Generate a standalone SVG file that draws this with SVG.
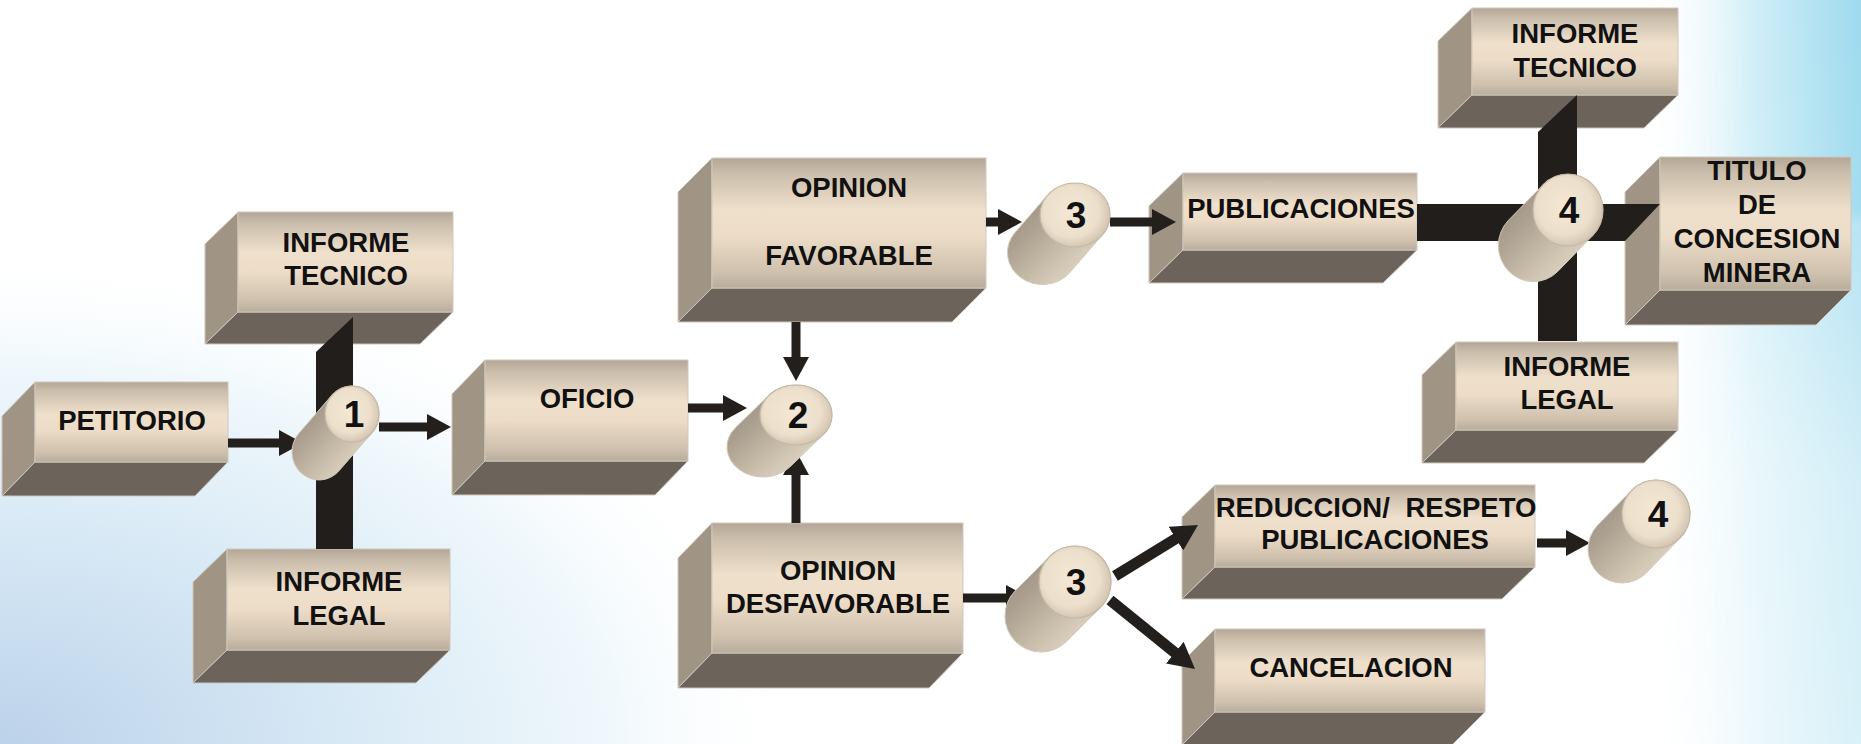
<svg xmlns="http://www.w3.org/2000/svg" width="1861" height="744" viewBox="0 0 1861 744">
<defs>
<style>
.front{fill:url(#gFront);stroke:#cfc7bc;stroke-width:1}
.side{fill:#a09585;stroke:#cfc7bc;stroke-width:1;stroke-linejoin:round}
.bot{fill:#6c635a;stroke:#cfc7bc;stroke-width:1;stroke-linejoin:round}
.lbl{font-family:"Liberation Sans",Arial,sans-serif;font-weight:bold;font-size:27.5px;fill:#111;text-anchor:middle}
.num{font-family:"Liberation Sans",Arial,sans-serif;font-weight:bold;font-size:37px;fill:#111;text-anchor:middle}
.cbody{fill:url(#gCyl);stroke:#d3c9bb;stroke-width:1}
.ctop{fill:url(#gTop);stroke:#c4b8a6;stroke-width:1.2}
.bar{fill:#221e1b}
.arr{stroke:#231f1c;stroke-width:9;fill:none;marker-end:url(#ah)}
.arrd{stroke:#231f1c;stroke-width:11;fill:none;marker-end:url(#ah2)}
</style>
<linearGradient id="gFront" x1="0" y1="0" x2="0" y2="1">
<stop offset="0" stop-color="#b3a696"/>
<stop offset="0.12" stop-color="#cbbeac"/>
<stop offset="0.4" stop-color="#efe0cc"/>
<stop offset="0.6" stop-color="#ecdcc8"/>
<stop offset="0.88" stop-color="#cfc1ae"/>
<stop offset="1" stop-color="#b9ac9b"/>
</linearGradient>
<linearGradient id="gCyl" x1="0" y1="0" x2="1" y2="1">
<stop offset="0" stop-color="#8f8373"/>
<stop offset="0.35" stop-color="#ada191"/>
<stop offset="0.68" stop-color="#d3c7b5"/>
<stop offset="0.82" stop-color="#dfd3c1"/>
<stop offset="1" stop-color="#7f7468"/>
</linearGradient>
<radialGradient id="gTop" cx="0.45" cy="0.45" r="0.6">
<stop offset="0" stop-color="#f4e7d5"/>
<stop offset="0.65" stop-color="#ecdfcb"/>
<stop offset="1" stop-color="#cdbfab"/>
</radialGradient>
<radialGradient id="bgL" cx="0" cy="744" r="800" gradientUnits="userSpaceOnUse" gradientTransform="translate(0,744) scale(1,0.62) translate(0,-744)">
<stop offset="0" stop-color="#bcd2ea"/>
<stop offset="0.45" stop-color="#d9eaf6"/>
<stop offset="0.75" stop-color="#eef7fb"/>
<stop offset="1" stop-color="#ffffff" stop-opacity="0"/>
</radialGradient>
<linearGradient id="bgR" x1="1640" y1="0" x2="1861" y2="0" gradientUnits="userSpaceOnUse">
<stop offset="0" stop-color="#ffffff" stop-opacity="0"/>
<stop offset="0.5" stop-color="#d2eff8"/>
<stop offset="1" stop-color="#9edaee"/>
</linearGradient>
<linearGradient id="mRg" x1="0" y1="0" x2="0" y2="1">
<stop offset="0" stop-color="#fff"/>
<stop offset="0.28" stop-color="#fff" stop-opacity="0.95"/>
<stop offset="0.3" stop-color="#fff" stop-opacity="0.75"/>
<stop offset="0.65" stop-color="#fff" stop-opacity="0.45"/>
<stop offset="1" stop-color="#fff" stop-opacity="0.4"/>
</linearGradient>
<mask id="mR"><rect x="1600" y="0" width="261" height="744" fill="url(#mRg)"/></mask>
<marker id="ah" viewBox="0 0 24 26" markerWidth="24" markerHeight="26" refX="1" refY="13" markerUnits="userSpaceOnUse" orient="auto">
<path d="M0,0 L24,13 L0,26 Z" fill="#231f1c"/>
</marker>
<marker id="ah2" viewBox="0 0 26 28" markerWidth="26" markerHeight="28" refX="1" refY="14" markerUnits="userSpaceOnUse" orient="auto">
<path d="M0,0 L26,14 L0,28 Z" fill="#231f1c"/>
</marker>
</defs>

<g id="background">
<rect x="0" y="0" width="1861" height="744" fill="#ffffff"/>
<rect x="0" y="0" width="1861" height="744" fill="url(#bgL)"/>
<rect x="1600" y="0" width="261" height="744" fill="url(#bgR)" mask="url(#mR)"/>
</g>

<g id="node-petitorio">
<polygon class="side" points="35,382 2,416 2,496 35,462"/>
<polygon class="bot" points="35,462 228,462 195,496 2,496"/>
<rect class="front" x="35" y="382" width="193" height="80"/>
<text class="lbl" x="132" y="430">PETITORIO</text>
</g>

<g id="node-informe-tecnico-1">
<polygon class="side" points="238,212 205,244 205,344 238,312"/>
<polygon class="bot" points="238,312 453,312 420,344 205,344"/>
<rect class="front" x="238" y="212" width="215" height="100"/>
<text class="lbl" x="346" y="252">INFORME</text>
<text class="lbl" x="346" y="285">TECNICO</text>
</g>

<g id="node-informe-legal-1">
<polygon class="side" points="227,549 193,582 193,683 227,650"/>
<polygon class="bot" points="227,650 450,650 416,683 193,683"/>
<rect class="front" x="227" y="549" width="223" height="101"/>
<text class="lbl" x="339" y="591">INFORME</text>
<text class="lbl" x="339" y="625">LEGAL</text>
</g>

<g id="node-oficio">
<polygon class="side" points="485,360 452,394 452,495 485,461"/>
<polygon class="bot" points="485,461 688,461 655,495 452,495"/>
<rect class="front" x="485" y="360" width="203" height="101"/>
<text class="lbl" x="587" y="408">OFICIO</text>
</g>

<g id="node-opinion-favorable">
<polygon class="side" points="712,158 678,192 678,322 712,288"/>
<polygon class="bot" points="712,288 986,288 952,322 678,322"/>
<rect class="front" x="712" y="158" width="274" height="130"/>
<text class="lbl" x="849" y="197">OPINION</text>
<text class="lbl" x="849" y="265">FAVORABLE</text>
</g>

<g id="node-opinion-desfavorable">
<polygon class="side" points="712,523 678,558 678,688 712,653"/>
<polygon class="bot" points="712,653 963,653 929,688 678,688"/>
<rect class="front" x="712" y="523" width="251" height="130"/>
<text class="lbl" x="838" y="580">OPINION</text>
<text class="lbl" x="838" y="613">DESFAVORABLE</text>
</g>

<g id="node-publicaciones">
<polygon class="side" points="1183,173 1149,206 1149,283 1183,250"/>
<polygon class="bot" points="1183,250 1417,250 1383,283 1149,283"/>
<rect class="front" x="1183" y="173" width="234" height="77"/>
<text class="lbl" x="1301" y="218">PUBLICACIONES</text>
</g>

<g id="node-informe-tecnico-4">
<polygon class="side" points="1472,8 1438,41 1438,128 1472,95"/>
<polygon class="bot" points="1472,95 1678,95 1644,128 1438,128"/>
<rect class="front" x="1472" y="8" width="206" height="87"/>
<text class="lbl" x="1575" y="43">INFORME</text>
<text class="lbl" x="1575" y="77">TECNICO</text>
</g>

<g id="node-informe-legal-4">
<polygon class="side" points="1456,342 1422,375 1422,463 1456,430"/>
<polygon class="bot" points="1456,430 1678,430 1644,463 1422,463"/>
<rect class="front" x="1456" y="342" width="222" height="88"/>
<text class="lbl" x="1567" y="376">INFORME</text>
<text class="lbl" x="1567" y="409">LEGAL</text>
</g>

<g id="node-titulo">
<polygon class="side" points="1660,157 1625,192 1625,325 1660,290"/>
<polygon class="bot" points="1660,290 1851,290 1816,325 1625,325"/>
<rect class="front" x="1660" y="157" width="191" height="133"/>
<text class="lbl" x="1757" y="180">TITULO</text>
<text class="lbl" x="1757" y="214">DE</text>
<text class="lbl" x="1757" y="248">CONCESION</text>
<text class="lbl" x="1757" y="282">MINERA</text>
</g>

<g id="node-reduccion">
<polygon class="side" points="1215,485 1182,517 1182,599 1215,567"/>
<polygon class="bot" points="1215,567 1535,567 1502,599 1182,599"/>
<rect class="front" x="1215" y="485" width="320" height="82"/>
<text class="lbl" x="1376" y="517" style="word-spacing:8px">REDUCCION/ RESPETO</text>
<text class="lbl" x="1375" y="549">PUBLICACIONES</text>
</g>

<g id="node-cancelacion">
<polygon class="side" points="1215,629 1182,662 1182,745 1215,712"/>
<polygon class="bot" points="1215,712 1485,712 1452,745 1182,745"/>
<rect class="front" x="1215" y="629" width="270" height="83"/>
<text class="lbl" x="1351" y="677">CANCELACION</text>
</g>

<g id="connectors">
<polygon class="bar" points="316,352 353,317 353,549 316,549"/>
<polygon class="bar" points="1538,132 1577,95 1577,341 1538,341"/>
<polygon class="bar" points="1417,204 1660,204 1625,241 1417,241"/>
<path class="arr" d="M228,443 H280"/>
<path class="arr" d="M379,427 H428"/>
<path class="arr" d="M688,408 H724"/>
<path class="arr" d="M796,322 V358"/>
<path class="arr" d="M796,523 V474"/>
<path class="arr" d="M986,222 H999"/>
<path class="arr" d="M1110,222 H1153"/>
<path class="arr" d="M963,598 H1007"/>
<path class="arrd" d="M1115,576 L1176.7,538.1"/>
<path class="arrd" d="M1110,600 L1175.6,653.3"/>
<path class="arr" d="M1537,543 H1567"/>
</g>

<g id="node-cyl-1">
<path class="cbody" d="M331.9,395.3 L298.9,433.3 A27,28 0 0 0 339.1,470.7 L372.1,432.7 A27,28 0 0 0 331.9,395.3 Z"/>
<ellipse class="ctop" cx="352" cy="414" rx="27" ry="28"/>
<text class="num" x="354" y="427">1</text>
</g>

<g id="node-cyl-2">
<path class="cbody" d="M768.7,395.4 L735.7,427.4 A36,30 0 0 0 790.3,466.6 L823.3,434.6 A36,30 0 0 0 768.7,395.4 Z"/>
<ellipse class="ctop" cx="796" cy="415" rx="36" ry="30"/>
<text class="num" x="798" y="428">2</text>
</g>

<g id="node-cyl-3a">
<path class="cbody" d="M1047.6,195.1 L1014.6,233.1 A35,32 0 0 0 1069.4,272.9 L1102.4,234.9 A35,32 0 0 0 1047.6,195.1 Z"/>
<ellipse class="ctop" cx="1075" cy="215" rx="35" ry="32"/>
<text class="num" x="1076" y="228">3</text>
</g>

<g id="node-cyl-3b">
<path class="cbody" d="M1049.5,556.5 L1015.5,590.5 A36,36 0 0 0 1066.5,641.5 L1100.5,607.5 A36,36 0 0 0 1049.5,556.5 Z"/>
<ellipse class="ctop" cx="1075" cy="582" rx="36" ry="36"/>
<text class="num" x="1076" y="595">3</text>
</g>

<g id="node-cyl-4a">
<path class="cbody" d="M1543.3,184.5 L1508.3,220.5 A35,36 0 0 0 1557.7,271.5 L1592.7,235.5 A35,36 0 0 0 1543.3,184.5 Z"/>
<ellipse class="ctop" cx="1568" cy="210" rx="35" ry="36"/>
<text class="num" x="1569" y="223">4</text>
</g>

<g id="node-cyl-4b">
<path class="cbody" d="M1631.6,490.3 L1597.6,525.3 A34,34 0 0 0 1646.4,572.7 L1680.4,537.7 A34,34 0 0 0 1631.6,490.3 Z"/>
<ellipse class="ctop" cx="1656" cy="514" rx="34" ry="34"/>
<text class="num" x="1658" y="527">4</text>
</g>
</svg>
